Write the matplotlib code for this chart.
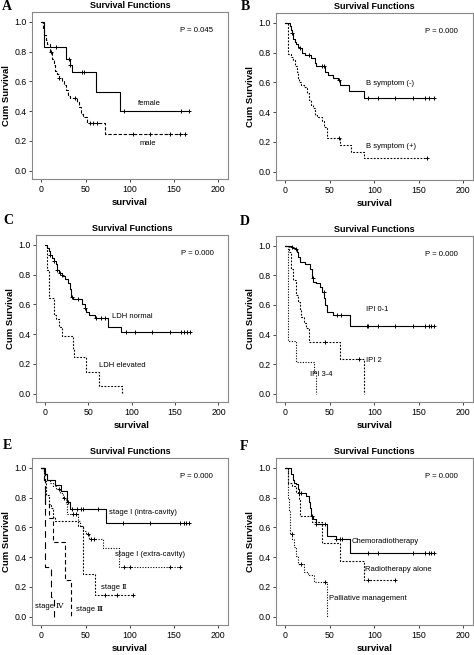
import numpy as np
import matplotlib.pyplot as plt

plt.rcParams['font.family'] = ['Liberation Sans', 'DejaVu Sans']

# ---- A: sex ----
female_t = [0, 2.5, 27.5, 32, 34.5, 61.5, 89]
female_s = [1.0, 0.83, 0.75, 0.71, 0.665, 0.53, 0.40]
female_end = 167
female_cens = [17, 31, 33, 46, 48, 93, 158, 167]

male_t = [0, 2, 3.5, 5.5, 7, 10, 12.5, 14, 15.5, 18, 20, 23, 26, 28, 30, 33, 40, 43, 45, 47, 52, 72]
male_s = [1.0, 0.95, 0.91, 0.88, 0.85, 0.80, 0.75, 0.71, 0.67, 0.65, 0.625, 0.60, 0.575, 0.54,
          0.50, 0.485, 0.46, 0.43, 0.38, 0.36, 0.32, 0.25]
male_end = 162
male_cens = [11, 20, 38, 55, 58, 63, 104, 123, 145, 157, 162]

# ---- B: B symptom ----
bneg_t = [0, 5, 6.5, 7.5, 9, 10.5, 12, 14, 17, 19, 22, 29, 33, 35, 45, 48, 54, 59, 62, 72, 89]
bneg_s = [1.0, 0.98, 0.95, 0.93, 0.89, 0.87, 0.86, 0.84, 0.83, 0.80, 0.785, 0.76, 0.73, 0.71,
          0.67, 0.65, 0.63, 0.615, 0.58, 0.545, 0.495]
bneg_end = 167
bneg_cens = [8, 17, 27, 41, 44, 60, 93, 104, 123, 144, 157, 162, 167]

bpos_t = [0, 3.5, 6, 9, 11, 13, 14, 15, 18, 21, 24, 27, 29, 31, 33, 36, 41, 44, 46.5, 62, 74, 89]
bpos_s = [1.0, 0.79, 0.77, 0.75, 0.71, 0.67, 0.63, 0.60, 0.58, 0.57, 0.53, 0.48, 0.45, 0.43,
          0.38, 0.37, 0.34, 0.30, 0.225, 0.18, 0.135, 0.09]
bpos_end = 159
bpos_cens = [60, 159]

# ---- C: LDH ----
ldhn_t = [0, 2, 4, 6, 8, 10, 12, 13.5, 15.5, 19, 21, 23, 26.5, 28.5, 30, 32, 42, 45.5, 47.5,
          50.5, 57.5, 72.5, 88]
ldhn_s = [1.0, 0.98, 0.955, 0.93, 0.91, 0.89, 0.87, 0.83, 0.81, 0.80, 0.79, 0.77, 0.745, 0.70,
          0.65, 0.635, 0.60, 0.575, 0.55, 0.527, 0.51, 0.45, 0.415]
ldhn_end = 167
ldhn_cens = [6, 10, 14, 17, 20, 31, 38, 46, 59, 64, 69, 93, 104, 123, 144, 157, 160, 164, 167]

ldhe_t = [0, 2.5, 4.5, 10.5, 13, 15.5, 19, 32, 33.5, 47, 62, 89]
ldhe_s = [1.0, 0.83, 0.645, 0.53, 0.50, 0.445, 0.39, 0.30, 0.245, 0.145, 0.05, 0.0]
ldhe_end = 89
ldhe_cens = []

# ---- D: IPI ----
ipi01_t = [0, 6.5, 8.5, 11.5, 13, 14.5, 16, 22.5, 28, 29.5, 31.5, 34.5, 38.5, 41.5, 44, 45,
           46.5, 53.5, 73]
ipi01_s = [1.0, 0.993, 0.985, 0.978, 0.955, 0.92, 0.89, 0.877, 0.84, 0.78, 0.755, 0.745, 0.72,
           0.69, 0.645, 0.60, 0.555, 0.535, 0.46]
ipi01_end = 167
ipi01_cens = [8, 12, 31, 43, 58, 63, 92, 93, 104, 123, 144, 157, 161, 164, 167]

ipi2_t = [0, 4.5, 6.5, 9, 11.5, 14, 16, 18, 20.5, 23.5, 26.5, 62, 88.5]
ipi2_s = [1.0, 0.955, 0.845, 0.767, 0.667, 0.62, 0.567, 0.52, 0.478, 0.445, 0.35, 0.235, 0.0]
ipi2_end = 88.5
ipi2_cens = [45, 83]

ipi34_t = [0, 2.5, 3.5, 11.5, 32.5, 34]
ipi34_s = [1.0, 0.86, 0.355, 0.215, 0.145, 0.0]
ipi34_end = 34
ipi34_cens = []

# ---- E: stage ----
e1_t = [0, 4, 6, 15, 22, 28.5, 32.5, 73]
e1_s = [1.0, 0.96, 0.92, 0.885, 0.845, 0.77, 0.72, 0.63]
e1_end = 167
e1_cens = [30, 35, 40, 45, 47, 64, 92, 123, 157, 161, 164, 167]

e1x_t = [0, 3, 6, 10, 13.5, 17, 21, 25, 28, 29.5, 41, 43.5, 47.5, 50.5, 54, 70, 88]
e1x_s = [1.0, 0.955, 0.92, 0.90, 0.88, 0.855, 0.83, 0.80, 0.755, 0.69, 0.645, 0.61, 0.578,
         0.555, 0.522, 0.462, 0.333]
e1x_end = 157
e1x_cens = [20, 26, 36, 39, 53, 56, 60, 93, 100, 145, 157]

e2_t = [0, 3, 5, 9, 11.5, 13.5, 15, 41, 47.5, 61]
e2_s = [1.0, 0.91, 0.82, 0.755, 0.733, 0.667, 0.645, 0.61, 0.29, 0.145]
e2_end = 104
e2_cens = [72, 86, 104]

e3_t = [0, 4.5, 9, 13.5, 27, 33.5]
e3_s = [1.0, 0.755, 0.66, 0.50, 0.25, 0.0]
e3_end = 33.5
e3_cens = []

e4_t = [0, 3, 4.5, 11.5, 14.5]
e4_s = [1.0, 0.92, 0.333, 0.133, 0.0]
e4_end = 14.5
e4_cens = []

# ---- F: treatment ----
chemo_t = [0, 6.5, 8.5, 10, 12, 14, 15, 23.5, 26.5, 28, 29, 31.5, 34, 46.5, 56.5, 73]
chemo_s = [1.0, 0.96, 0.92, 0.90, 0.89, 0.855, 0.827, 0.81, 0.767, 0.733, 0.678, 0.655, 0.62,
           0.545, 0.52, 0.43]
chemo_end = 167
chemo_cens = [15, 18, 30, 34, 45, 57, 61, 64, 93, 104, 144, 157, 161, 164, 167]

radio_t = [0, 3.5, 8, 12, 15.5, 17, 30, 41, 61, 88.5]
radio_s = [1.0, 0.90, 0.88, 0.84, 0.79, 0.678, 0.633, 0.496, 0.371, 0.244]
radio_end = 123
radio_cens = [93, 123]

pall_t = [0, 2.5, 4, 5.5, 8, 10, 12, 14, 21, 25, 32.5, 46.5]
pall_s = [1.0, 0.80, 0.71, 0.555, 0.52, 0.467, 0.41, 0.355, 0.30, 0.28, 0.233, 0.0]
pall_end = 46.5
pall_cens = [7, 18, 45]

p_values = ['P = 0.045', 'P = 0.000', 'P = 0.000', 'P = 0.000', 'P = 0.000', 'P = 0.000']
panel_letters = ['A', 'B', 'C', 'D', 'E', 'F']

SOLID = '-'
DASH = (0, (3, 1.6))
DOT = (0, (1.6, 1.4))
FDOT = (0, (1, 1.4))
MDASH = (0, (4, 2.5))
LDASH = (0, (6, 4))


def km(ax, t, s, end, cens, ls):
    t = np.asarray(t, float)
    s = np.asarray(s, float)
    ax.step(np.append(t, end), np.append(s, s[-1]), where='post', color='black', lw=0.8, ls=ls)
    if len(cens):
        c = np.asarray(cens, float)
        idx = np.searchsorted(t, c, side='right') - 1
        ax.plot(c, s[idx], ls='none', marker='+', ms=3.5, mew=0.7, color='black')


def setup(ax, p):
    ax.set_xlim(-10.5, 211)
    ax.set_ylim(-0.055, 1.065)
    ax.set_xticks([0, 50, 100, 150, 200])
    ax.set_yticks([0.0, 0.2, 0.4, 0.6, 0.8, 1.0])
    ax.set_yticklabels(['0.0', '0.2', '0.4', '0.6', '0.8', '1.0'])
    ax.tick_params(labelsize=6.3, length=2.5, width=0.7, pad=1.5, color='#444444')
    for sp in ax.spines.values():
        sp.set_color('#888888')
        sp.set_linewidth(0.8)
    ax.set_title('Survival Functions', fontsize=6.5, fontweight='bold', pad=3)
    ax.set_ylabel('Cum Survival', fontsize=6.8, fontweight='bold', labelpad=2)
    ax.set_xlabel('survival', fontsize=6.8, fontweight='bold', labelpad=3)
    ax.text(0.755, 0.88, p, transform=ax.transAxes, fontsize=5.6)


fig = plt.figure(figsize=(4.74, 6.55), dpi=100)
W, H = 474, 655
boxes = [(32, 12, 228, 179), (276, 13, 473, 180),
         (36, 235, 228, 402), (276, 236, 473, 402),
         (32, 458, 228, 625), (276, 458, 473, 625)]
letter_pos = [(2, 0), (241, 0), (3, 214), (240, 215), (3, 439), (240, 440)]
axes = []
for (l, t, r, b) in boxes:
    axes.append(fig.add_axes([l / W, 1 - b / H, (r - l) / W, (b - t) / H]))

for ax, p in zip(axes, p_values):
    setup(ax, p)
for letter, (lx, ly) in zip(panel_letters, letter_pos):
    fig.text(lx / W, 1 - ly / H, letter, fontsize=10, fontweight='bold',
             family='Liberation Serif', ha='left', va='top')

fs = 5.5
# A
ax = axes[0]
km(ax, female_t, female_s, female_end, female_cens, SOLID)
km(ax, male_t, male_s, male_end, male_cens, DASH)
ax.text(109, 0.44, 'female', fontsize=fs)
ax.text(111, 0.17, 'male', fontsize=fs)

# B
ax = axes[1]
km(ax, bneg_t, bneg_s, bneg_end, bneg_cens, SOLID)
km(ax, bpos_t, bpos_s, bpos_end, bpos_cens, DOT)
ax.text(91, 0.585, 'B symptom (-)', fontsize=fs)
ax.text(91, 0.16, 'B symptom (+)', fontsize=fs)

# C
ax = axes[2]
km(ax, ldhn_t, ldhn_s, ldhn_end, ldhn_cens, SOLID)
km(ax, ldhe_t, ldhe_s, ldhe_end, ldhe_cens, DOT)
ax.text(77, 0.51, 'LDH normal', fontsize=fs)
ax.text(62, 0.18, 'LDH elevated', fontsize=fs)

# D
ax = axes[3]
km(ax, ipi01_t, ipi01_s, ipi01_end, ipi01_cens, SOLID)
km(ax, ipi2_t, ipi2_s, ipi2_end, ipi2_cens, DOT)
km(ax, ipi34_t, ipi34_s, ipi34_end, ipi34_cens, FDOT)
ax.text(91, 0.56, 'IPI 0-1', fontsize=fs)
ax.text(91, 0.215, 'IPI 2', fontsize=fs)
ax.text(28, 0.12, 'IPI 3-4', fontsize=fs)

# E
ax = axes[4]
km(ax, e1_t, e1_s, e1_end, e1_cens, SOLID)
km(ax, e1x_t, e1x_s, e1x_end, e1x_cens, FDOT)
km(ax, e2_t, e2_s, e2_end, e2_cens, DOT)
km(ax, e3_t, e3_s, e3_end, e3_cens, MDASH)
km(ax, e4_t, e4_s, e4_end, e4_cens, LDASH)
ax.text(77, 0.69, 'stage I (intra-cavity)', fontsize=fs)
ax.text(83, 0.41, 'stage I (extra-cavity)', fontsize=fs)
ax.text(68, 0.185, 'stage \u2161', fontsize=fs, family=['Liberation Sans', 'DejaVu Serif'])
ax.text(39, 0.04, 'stage \u2162', fontsize=fs, family=['Liberation Sans', 'DejaVu Serif'])
ax.text(-7, 0.06, 'stage \u2163', fontsize=fs, family=['Liberation Sans', 'DejaVu Serif'])

# F
ax = axes[5]
km(ax, chemo_t, chemo_s, chemo_end, chemo_cens, SOLID)
km(ax, radio_t, radio_s, radio_end, radio_cens, DOT)
km(ax, pall_t, pall_s, pall_end, pall_cens, FDOT)
ax.text(75, 0.495, 'Chemoradiotherapy', fontsize=fs)
ax.text(90, 0.31, 'Radiotherapy alone', fontsize=fs)
ax.text(49, 0.11, 'Palliative management', fontsize=fs)

fig.savefig('out.png', dpi=100)
